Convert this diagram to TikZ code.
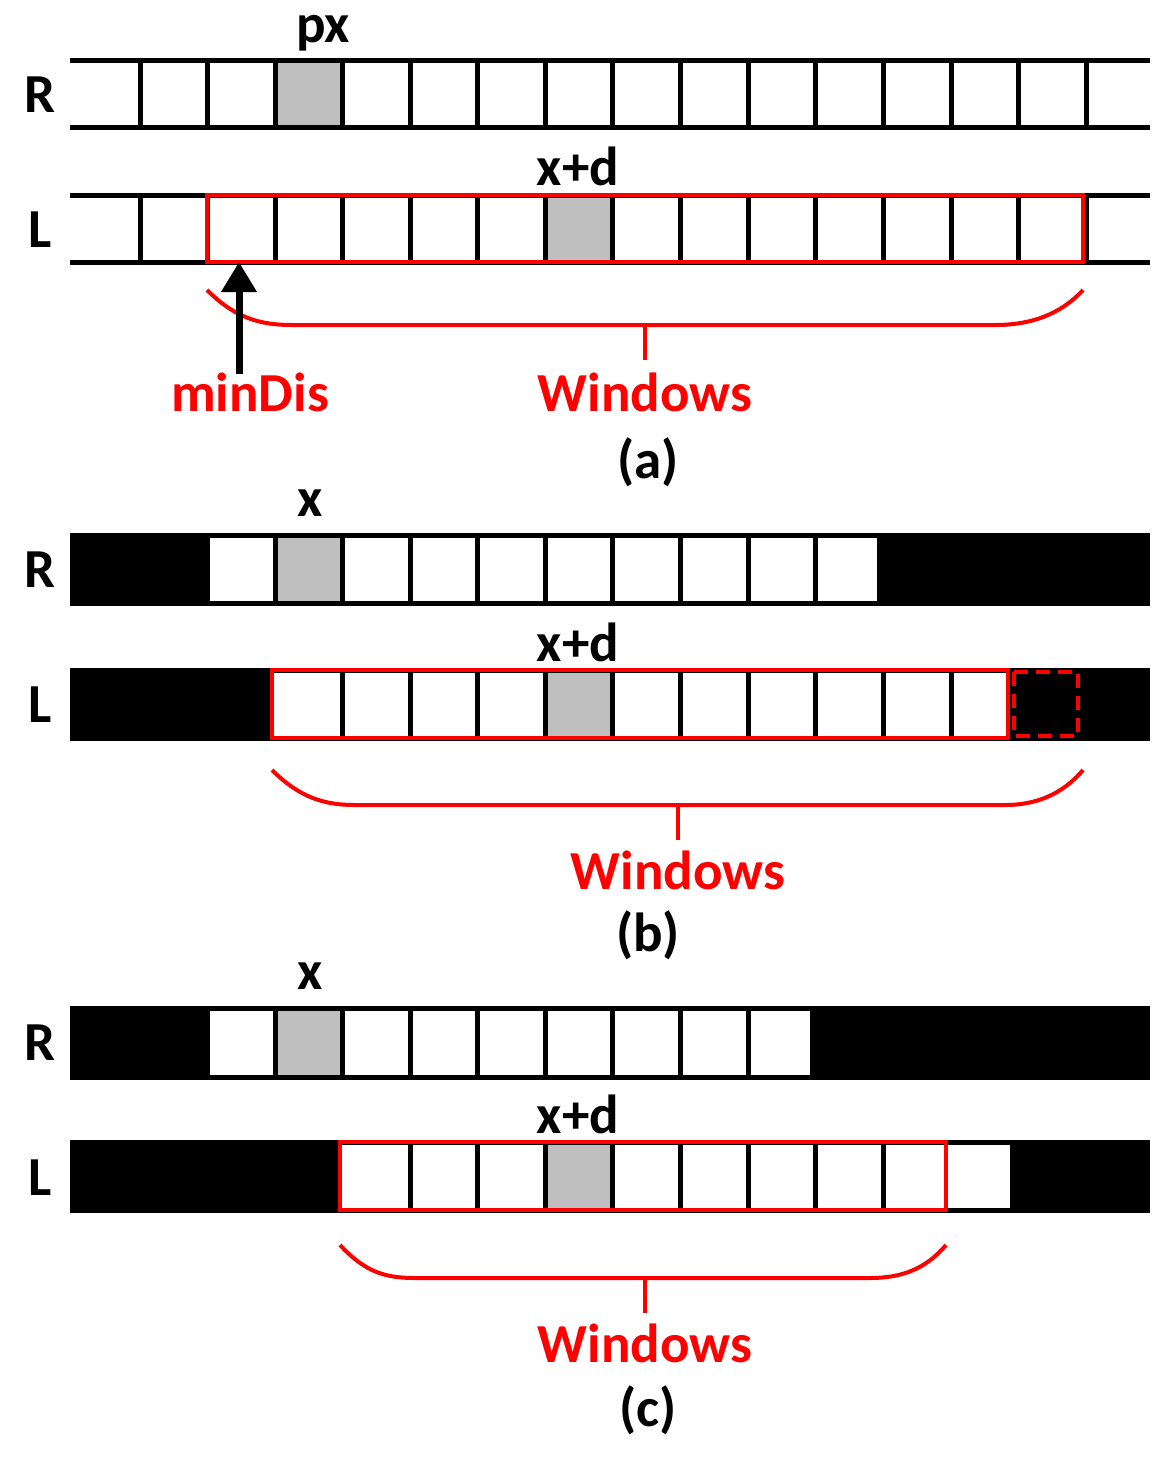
\documentclass[tikz,border=0pt]{standalone}
\usepackage{fontspec}
\setmainfont{Carlito}
\usetikzlibrary{arrows.meta}
\begin{document}
\begin{tikzpicture}[x=1pt,y=-1pt,
  rail/.style={line width=5pt},
  div/.style={line width=5pt},
  blk/.style={fill=black},
  gry/.style={fill=gray!50},
  win/.style={draw=red,line width=4pt},
  brace/.style={draw=red,line width=4pt},
  lab/.style={font=\fontsize{55}{60}\selectfont\bfseries,inner sep=0pt},
  rlab/.style={lab,text=red}]
\useasboundingbox (0,0) rectangle (1172,1457);
% ---------- (a)
\fill[gry] (275,60) rectangle (342,127);
\fill[gry] (545,195) rectangle (612,262);
\foreach \y in {60,127,195,262} \draw[rail] (70,\y) -- (1150,\y);
\foreach \x in {140,207.6,275,342.6,410,477.8,545,612.8,680,748,815.8,883,951,1018.6,1086}
  {\draw[div] (\x,60) -- (\x,127); \draw[div] (\x,195) -- (\x,262);}
\draw[win] (207,195) rectangle (1083,262);
\draw[brace] (207,290) .. controls (235,318) and (260,325) .. (292,325) -- (995,325) .. controls (1030,325) and (1060,315) .. (1083,290);
\draw[brace] (645,325) -- (645,360);
\node[lab] (pxa) at (323,33) {px};
\node[lab] (xda) at (578,166) {x+d};
\node[lab] (Ra) at (40,95) {R};
\node[lab] (La) at (40,230) {L};
\node[rlab] (mind) at (250,392) {minDis};
\node[rlab] (wa) at (645,392) {Windows};
\node[lab] (ca) at (648,462) {(a)};
\coordinate (arrtop) at (239,262);
\draw[line width=7pt,-{Triangle[length=30pt,width=34pt]}] (239,374) -- (arrtop);
% ---------- (b)
\fill[blk] (70,535) rectangle (210,603);
\fill[blk] (877,535) rectangle (1150,603);
\fill[gry] (275,535) rectangle (342,603);
\fill[blk] (70,670) rectangle (272,738);
\fill[blk] (1008,670) rectangle (1150,738);
\fill[gry] (545,670) rectangle (612,738);
\foreach \y in {535,603,670,738} \draw[rail] (70,\y) -- (1150,\y);
\foreach \x in {275,342.6,410,477.8,545,612.8,680,748,815.8} \draw[div] (\x,535) -- (\x,603);
\foreach \x in {342.6,410,477.8,545,612.8,680,748,815.8,883,951} \draw[div] (\x,670) -- (\x,738);
\draw[win] (272,670) rectangle (1008,738);
\draw[win,dashed,dash pattern=on 14pt off 8pt] (1014,672) rectangle (1078,736);
\draw[brace] (272,770) .. controls (300,798) and (325,805) .. (355,805) -- (1005,805) .. controls (1035,805) and (1062,795) .. (1083,770);
\draw[brace] (678,805) -- (678,840);
\node[lab] (xb) at (310,503) {x};
\node[lab] (xdb) at (578,642) {x+d};
\node[lab] (Rb) at (40,570) {R};
\node[lab] (Lb) at (40,705) {L};
\node[rlab] (wb) at (678,870) {Windows};
\node[lab] (cb) at (648,935) {(b)};
% ---------- (c)
\fill[blk] (70,1008) rectangle (210,1077);
\fill[blk] (810,1008) rectangle (1150,1077);
\fill[gry] (275,1008) rectangle (342,1077);
\fill[blk] (70,1142) rectangle (340,1210);
\fill[blk] (1010,1142) rectangle (1150,1210);
\fill[gry] (545,1142) rectangle (612,1210);
\foreach \y in {1008,1077,1142,1210} \draw[rail] (70,\y) -- (1150,\y);
\foreach \x in {275,342.6,410,477.8,545,612.8,680,748} \draw[div] (\x,1008) -- (\x,1077);
\foreach \x in {410,477.8,545,612.8,680,748,815.8,883} \draw[div] (\x,1142) -- (\x,1210);
\draw[win] (340,1142) rectangle (946,1210);
\draw[brace] (340,1245) .. controls (365,1272) and (385,1278) .. (415,1278) -- (870,1278) .. controls (900,1278) and (925,1270) .. (946,1245);
\draw[brace] (645,1278) -- (645,1313);
\node[lab] (xc) at (310,976) {x};
\node[lab] (xdc) at (578,1114) {x+d};
\node[lab] (Rc) at (40,1043) {R};
\node[lab] (Lc) at (40,1178) {L};
\node[rlab] (wc) at (645,1343) {Windows};
\node[lab] (cc) at (648,1410) {(c)};
\end{tikzpicture}
\end{document}
